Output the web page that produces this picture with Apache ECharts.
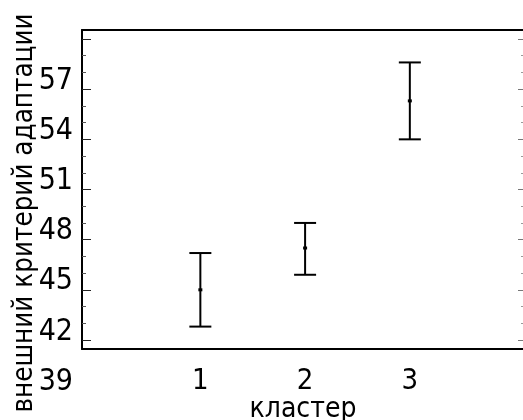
<!DOCTYPE html>
<html>
<head>
<meta charset="utf-8">
<script src="https://cdn.jsdelivr.net/npm/echarts@6/dist/echarts.min.js"></script>
<style>
html, body { margin: 0; padding: 0; background: #fff; }
#main { width: 523px; height: 420px; }
</style>
</head>
<body>
<div id="main"></div>
<script>
// данные кластеров: среднее и границы интервала
var clusters = [1, 2, 3];
var means = [45.0, 47.5, 56.3];
var lows = [42.8, 45.9, 54.0];
var highs = [47.2, 49.0, 58.6];

// подписи и деления оси
var yLabels = [39, 42, 45, 48, 51, 54, 57];
var majorTicks = [42, 45, 48, 51, 54, 57, 60];
var minorTicks = [43, 44, 46, 47, 49, 50, 52, 53, 55, 56, 58, 59];

var font = "'Liberation Sans Narrow', 'Arial Narrow', 'DejaVu Sans Condensed', sans-serif";

var myChart = echarts.init(document.getElementById('main'));

var barData = clusters.map(function (c, i) {
    return [c, lows[i], highs[i], means[i]];
});

function renderBar(params, api) {
    var x = api.value(0);
    var lo = api.coord([x, api.value(1)]);
    var hi = api.coord([x, api.value(2)]);
    var mid = api.coord([x, api.value(3)]);
    var w = 11;
    var st = { stroke: '#000', lineWidth: 2 };
    return {
        type: 'group',
        children: [
            { type: 'line', shape: { x1: lo[0], y1: lo[1], x2: hi[0], y2: hi[1] }, style: st },
            { type: 'line', shape: { x1: lo[0] - w, y1: lo[1], x2: lo[0] + w, y2: lo[1] }, style: st },
            { type: 'line', shape: { x1: hi[0] - w, y1: hi[1], x2: hi[0] + w, y2: hi[1] }, style: st },
            { type: 'rect', shape: { x: mid[0] - 2, y: mid[1] - 1.5, width: 4, height: 3 }, style: { fill: '#000' } }
        ]
    };
}

var xMin = -0.13, xMax = 4.09;
var yMin = 41.46, yMax = 60.54;

var option = {
    animation: false,
    grid: [
        { left: 82, right: -1, top: 30, bottom: 71, outerBoundsMode: 'none' },
        { left: 82, right: -1, top: 22, bottom: 38, outerBoundsMode: 'none' }
    ],
    xAxis: [
        {
            gridIndex: 0, type: 'value', position: 'bottom', min: xMin, max: xMax,
            axisLine: { onZero: false, lineStyle: { color: '#000', width: 2 } },
            axisTick: { show: false },
            splitLine: { show: false },
            axisLabel: { customValues: clusters, color: '#000', fontSize: 29, fontFamily: font, margin: 18 },
            name: 'кластер', nameLocation: 'middle', nameGap: 47, nameMoveOverlap: false,
            nameTextStyle: { color: '#000', fontSize: 28, fontFamily: font }
        },
        {
            gridIndex: 0, type: 'value', position: 'top', min: xMin, max: xMax,
            axisLine: { onZero: false, lineStyle: { color: '#000', width: 2 } },
            axisTick: { show: false }, axisLabel: { show: false }, splitLine: { show: false }
        },
        { gridIndex: 1, type: 'value', min: xMin, max: xMax, show: false }
    ],
    yAxis: [
        {
            gridIndex: 0, type: 'value', position: 'left', min: yMin, max: yMax,
            axisLine: { onZero: false, lineStyle: { color: '#000', width: 2 } },
            axisTick: { inside: true, customValues: majorTicks, length: 9, lineStyle: { color: '#222', width: 1 } },
            axisLabel: { show: false }, splitLine: { show: false }
        },
        {
            gridIndex: 0, type: 'value', position: 'left', min: yMin, max: yMax,
            axisLine: { show: false, onZero: false },
            axisTick: { inside: true, customValues: minorTicks, length: 4, lineStyle: { color: '#555', width: 1 } },
            axisLabel: { show: false }, splitLine: { show: false }
        },
        {
            gridIndex: 0, type: 'value', position: 'right', min: yMin, max: yMax,
            axisLine: { show: false, onZero: false },
            axisTick: { inside: true, customValues: majorTicks, length: 6, lineStyle: { color: '#777', width: 1 } },
            axisLabel: { show: false }, splitLine: { show: false }
        },
        {
            gridIndex: 0, type: 'value', position: 'right', min: yMin, max: yMax,
            axisLine: { show: false, onZero: false },
            axisTick: { inside: true, customValues: minorTicks, length: 3, lineStyle: { color: '#999', width: 1 } },
            axisLabel: { show: false }, splitLine: { show: false }
        },
        {
            gridIndex: 1, type: 'value', position: 'left', min: 39, max: 60.52,
            axisLine: { show: false, onZero: false },
            axisTick: { show: false }, splitLine: { show: false },
            axisLabel: { customValues: yLabels, color: '#000', fontSize: 30, fontFamily: font, margin: 9 },
            name: 'внешний критерий адаптации', nameLocation: 'middle', nameGap: 43, nameMoveOverlap: false,
            nameTextStyle: { color: '#000', fontSize: 27.5, fontFamily: font, padding: [0, 22, 0, 0] }
        }
    ],
    series: [
        {
            type: 'custom',
            xAxisIndex: 0,
            yAxisIndex: 0,
            renderItem: renderBar,
            data: barData
        }
    ]
};

myChart.setOption(option);
</script>
</body>
</html>
